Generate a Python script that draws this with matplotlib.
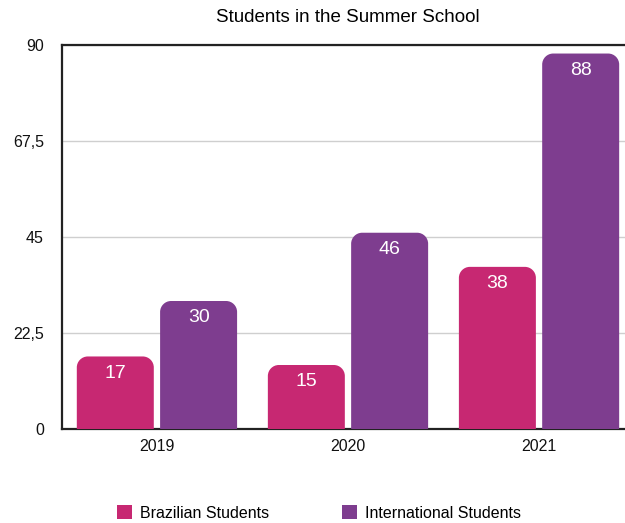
import matplotlib
matplotlib.use("Agg")
import matplotlib.pyplot as plt
import numpy as np
from matplotlib.path import Path
from matplotlib.patches import PathPatch, Patch

years = ["2019", "2020", "2021"]
brazilian = [17, 15, 38]
international = [30, 46, 88]
series_names = ["Brazilian Students", "International Students"]
colors = ["#C72872", "#7E3D8F"]
yticks = [0, 22.5, 45, 67.5, 90]
ytick_labels = ["0", "22,5", "45", "67,5", "90"]

plt.rcParams["font.family"] = ["Liberation Sans", "DejaVu Sans"]

fig = plt.figure(figsize=(6.25, 5.23), dpi=100)
ax = fig.add_axes([62 / 625, 1 - 429 / 523, 563 / 625, 384 / 523])

x = np.arange(len(years))
offset = 0.218
width = 0.403
ax.set_xlim(-0.497, 2.45)
ax.set_ylim(0, 90)

bars_b = ax.bar(x - offset, brazilian, width, color=colors[0])
bars_i = ax.bar(x + offset, international, width, color=colors[1])

# replace square bar tops with rounded ones
fig.canvas.draw()
px_x = ax.transData.transform((1, 0))[0] - ax.transData.transform((0, 0))[0]
px_y = ax.transData.transform((0, 1))[1] - ax.transData.transform((0, 0))[1]
r_px = 11
rx, ry = r_px / px_x, r_px / px_y
k = 0.5523


def rounded_top(x0, w, h):
    x1 = x0 + w
    verts = [
        (x0, 0), (x0, h - ry),
        (x0, h - ry + k * ry), (x0 + rx - k * rx, h), (x0 + rx, h),
        (x1 - rx, h),
        (x1 - rx + k * rx, h), (x1, h - ry + k * ry), (x1, h - ry),
        (x1, 0), (x0, 0),
    ]
    codes = [Path.MOVETO, Path.LINETO,
             Path.CURVE4, Path.CURVE4, Path.CURVE4,
             Path.LINETO,
             Path.CURVE4, Path.CURVE4, Path.CURVE4,
             Path.LINETO, Path.CLOSEPOLY]
    return Path(verts, codes)


for bars, col in ((bars_b, colors[0]), (bars_i, colors[1])):
    for rect in bars:
        rect.set_visible(False)
        h = rect.get_height()
        ax.add_patch(PathPatch(rounded_top(rect.get_x(), rect.get_width(), h),
                               facecolor=col, edgecolor="none", zorder=3))
        ax.text(rect.get_x() + rect.get_width() / 2, h - 17 / px_y, f"{h:g}",
                ha="center", va="center", color="white", fontsize=14, zorder=4)

ax.set_yticks(yticks)
ax.set_yticklabels(ytick_labels)
ax.set_xticks(x)
ax.set_xticklabels(years)
ax.tick_params(axis="both", length=0, labelsize=11.5, colors="#111111")
ax.tick_params(axis="y", pad=13)
ax.tick_params(axis="x", pad=7.5)

ax.grid(axis="y", color="#CFCFCF", linewidth=1, zorder=0)
ax.set_axisbelow(True)
ax.spines["right"].set_visible(False)
for side in ("left", "bottom", "top"):
    ax.spines[side].set_linewidth(1.6)
    ax.spines[side].set_color("#222222")

fig.text(348 / 625, 1 - 18 / 523, "Students in the Summer School",
         ha="center", va="center", fontsize=13.5)

handles = [Patch(facecolor=c, edgecolor="none") for c in colors]
fig.legend(handles, series_names, loc="center", bbox_to_anchor=(319 / 625, 1 - 513 / 523),
           ncol=2, frameon=False, fontsize=11.5, handlelength=0.95, handleheight=0.95,
           handletextpad=0.5, columnspacing=4.55)

fig.savefig("out.png", dpi=100)
